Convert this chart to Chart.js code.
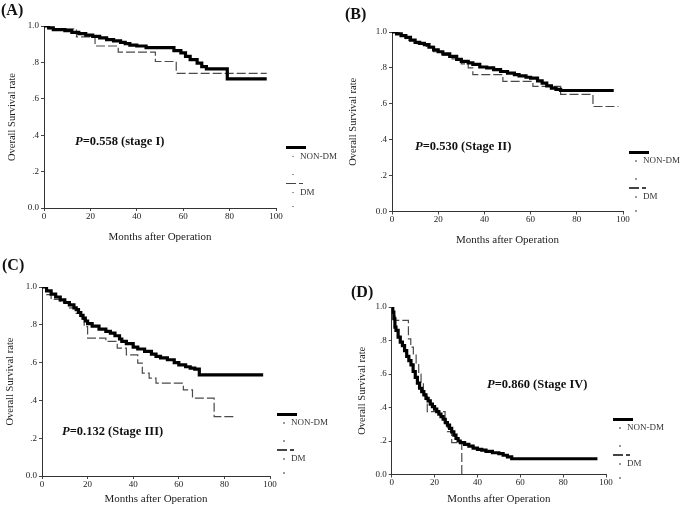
<!DOCTYPE html>
<html><head><meta charset="utf-8">
<script src="https://cdn.jsdelivr.net/npm/chart.js@4.4.1/dist/chart.umd.min.js"></script>
<style>
html,body{margin:0;padding:0;background:#fff;}
#page{position:relative;width:685px;height:509px;overflow:hidden;font-family:"Liberation Serif","Times New Roman",serif;color:#222;}
.panel{position:absolute;overflow:hidden;}
.panel canvas{position:absolute;left:0;top:0;}
.lbl{position:absolute;font-weight:bold;font-size:16px;line-height:16px;transform:translateY(-50%);white-space:nowrap;color:#111;}
.pval{position:absolute;font-weight:bold;font-size:12.5px;line-height:13px;transform:translateY(-50%);white-space:nowrap;color:#111;}
.leg{position:absolute;font-size:9px;line-height:9px;transform:translateY(-50%);white-space:nowrap;color:#333;}
.bar{position:absolute;height:3px;background:#000;}
.dash{position:absolute;height:1.5px;background:#444;}
.dot{position:absolute;width:1.5px;height:1.5px;background:#999;}
</style></head>
<body><div id="page"></div>
<script>
// ---- text ----
const panelLetters = ['(A)', '(B)', '(C)', '(D)'];
const pTexts = ['=0.558 (stage I)', '=0.530 (Stage II)', '=0.132 (Stage III)', '=0.860 (Stage IV)'];
const legendLabels = ['NON-DM', 'DM'];
const xTitle = 'Months after Operation';
const yTitle = 'Overall Survival rate';
const yTickLabels = ['0.0', '.2', '.4', '.6', '.8', '1.0'];

// ---- data (months, survival) ----
const aNonMonths = [0, 2, 4, 9, 12, 15, 18, 21, 24, 27, 30, 33, 35, 37, 40, 44, 56, 59, 61, 63, 66, 68, 70, 79, 96];
const aNonSurv   = [1.0, 0.99, 0.98, 0.975, 0.965, 0.958, 0.95, 0.943, 0.935, 0.925, 0.918, 0.91, 0.903, 0.895, 0.89, 0.881, 0.865, 0.852, 0.833, 0.815, 0.796, 0.777, 0.764, 0.709, 0.709];
const aDmMonths  = [0, 2, 14, 22, 32, 48, 57, 96];
const aDmSurv    = [1.0, 0.985, 0.94, 0.89, 0.857, 0.805, 0.74, 0.74];

const bNonMonths = [0, 2, 4, 6, 8, 10, 12, 14, 16, 18, 20, 22, 25, 28, 30, 33, 35, 38, 41, 44, 47, 50, 53, 55, 58, 60, 63, 65, 67, 69, 71, 73, 96];
const bNonSurv   = [1.0, 0.99, 0.98, 0.97, 0.955, 0.942, 0.937, 0.93, 0.915, 0.9, 0.89, 0.878, 0.864, 0.848, 0.836, 0.828, 0.82, 0.805, 0.8, 0.79, 0.78, 0.771, 0.762, 0.756, 0.748, 0.743, 0.728, 0.715, 0.7, 0.687, 0.68, 0.674, 0.674];
const bDmMonths  = [0, 3, 6, 10, 14, 18, 22, 26, 30, 33, 35, 48, 61, 73, 87, 98];
const bDmSurv    = [1.0, 0.975, 0.955, 0.935, 0.92, 0.89, 0.87, 0.85, 0.822, 0.8, 0.762, 0.725, 0.697, 0.652, 0.585, 0.585];

const cNonMonths = [0, 2, 4, 6, 8, 10, 12, 14, 15, 16, 17, 18, 19, 20, 22, 25, 28, 30, 32, 34, 35, 37, 40, 42, 45, 48, 50, 52, 55, 58, 60, 63, 65, 67, 69, 97];
const cNonSurv   = [1.0, 0.98, 0.962, 0.947, 0.932, 0.918, 0.905, 0.89, 0.88, 0.865, 0.85, 0.835, 0.82, 0.806, 0.793, 0.777, 0.765, 0.756, 0.742, 0.725, 0.712, 0.7, 0.682, 0.672, 0.659, 0.645, 0.633, 0.625, 0.615, 0.6, 0.588, 0.578, 0.571, 0.565, 0.535, 0.535];
const cDmMonths  = [0, 2, 4, 8, 12, 15, 17, 18.5, 20, 28, 33, 37, 42, 44, 47, 50, 62, 66, 75.5, 84];
const cDmSurv    = [1.0, 0.96, 0.935, 0.92, 0.89, 0.86, 0.83, 0.79, 0.73, 0.712, 0.677, 0.641, 0.597, 0.544, 0.518, 0.491, 0.456, 0.412, 0.314, 0.314];

const dNonMonths = [0, 0.5, 1, 1.5, 2, 3, 4, 5, 6, 7, 8, 9, 10, 11, 12, 13, 14, 15, 16, 17, 18, 19, 20, 21, 22, 23, 24, 25, 26, 27, 28, 29, 30, 31, 32, 34, 36, 38, 40, 42, 44, 47, 50, 52, 54, 56, 96];
const dNonSurv   = [1.0, 0.97, 0.93, 0.88, 0.86, 0.82, 0.79, 0.77, 0.74, 0.705, 0.68, 0.655, 0.615, 0.58, 0.545, 0.515, 0.495, 0.475, 0.455, 0.44, 0.42, 0.405, 0.39, 0.375, 0.36, 0.345, 0.33, 0.31, 0.295, 0.275, 0.255, 0.235, 0.215, 0.2, 0.19, 0.18, 0.17, 0.158, 0.15, 0.145, 0.138, 0.13, 0.125, 0.115, 0.105, 0.094, 0.094];
const dDmMonths  = [0, 0.8, 1.6, 7.8, 8.9, 10.1, 11.4, 12.6, 13.7, 14.8, 15.7, 16.6, 24.9, 26, 28, 32.7];
const dDmSurv    = [1.0, 0.95, 0.92, 0.81, 0.76, 0.72, 0.66, 0.6, 0.545, 0.5, 0.465, 0.375, 0.31, 0.256, 0.19, 0];

// ---- layout (page pixels) ----
const layouts = [
  {box:[0,0,340,250],   plot:[44,26,276,208],      yTitleX:12,  xTitleY:237, letter:[1,10],   p:[75,141],  leg:[286,147.5]},
  {box:[340,0,345,250], plot:[392,32,623,211.5],   yTitleX:353, xTitleY:240, letter:[345,14], p:[415,146], leg:[629,152]},
  {box:[0,250,340,259], plot:[42,287,270,476],     yTitleX:10,  xTitleY:499, letter:[2,265],  p:[62,431],  leg:[277,414]},
  {box:[340,250,345,259], plot:[391.7,307,606,474.5], yTitleX:362, xTitleY:499, letter:[351,292], p:[487,384], leg:[613,419]}
];
const series = [
  [aNonMonths, aNonSurv, aDmMonths, aDmSurv],
  [bNonMonths, bNonSurv, bDmMonths, bDmSurv],
  [cNonMonths, cNonSurv, cDmMonths, cDmSurv],
  [dNonMonths, dNonSurv, dDmMonths, dDmSurv]
];

const FAM = '"Liberation Serif","Times New Roman",serif';
const page = document.getElementById('page');
const pts = (m, s) => m.map((x, i) => ({x: x, y: s[i]}));

function el(parent, cls, x, y, w, h, text) {
  const d = document.createElement('div');
  d.className = cls;
  d.style.left = x + 'px'; d.style.top = y + 'px';
  if (w != null) d.style.width = w + 'px';
  if (h != null) d.style.height = h + 'px';
  if (text != null) d.textContent = text;
  parent.appendChild(d);
  return d;
}

layouts.forEach((g, i) => {
  const [bx, by, bw, bh] = g.box;
  const [pl, pt, pr, pb] = g.plot;
  const div = document.createElement('div');
  div.className = 'panel';
  Object.assign(div.style, {left: bx + 'px', top: by + 'px', width: bw + 'px', height: bh + 'px'});
  const cv = document.createElement('canvas');
  cv.width = bw; cv.height = bh;
  cv.style.width = bw + 'px'; cv.style.height = bh + 'px';
  div.appendChild(cv);
  page.appendChild(div);

  const yW = pl - bx, xH = (by + bh) - pb;
  const xFont = 11, yFont = 10.5;
  const [nm, ns, dm, ds] = series[i];
  new Chart(cv, {
    type: 'line',
    data: {datasets: [
      {label: legendLabels[0], data: pts(nm, ns), borderColor: '#000', borderWidth: 3.2, stepped: true, pointRadius: 0, fill: false, borderCapStyle: 'butt'},
      {label: legendLabels[1], data: pts(dm, ds), borderColor: '#4a4a4a', borderWidth: 1.2, borderDash: [9, 3], stepped: true, pointRadius: 0, fill: false}
    ]},
    options: {
      responsive: false, animation: false, events: [],
      layout: {padding: {left: 0, top: pt - by, right: (bx + bw) - pr, bottom: 0}},
      plugins: {legend: {display: false}, tooltip: {enabled: false}},
      scales: {
        x: {
          type: 'linear', min: 0, max: 100,
          ticks: {stepSize: 20, color: '#222', padding: 0, maxRotation: 0, font: {family: FAM, size: 9}},
          grid: {display: true, drawOnChartArea: false, drawTicks: true, tickLength: 3, tickColor: '#444'},
          border: {display: true, color: '#333', width: 1},
          title: {display: true, text: xTitle, color: '#222', font: {family: FAM, size: xFont},
                  padding: {top: 0, bottom: ((by + bh) - g.xTitleY) - xFont * 0.6}},
          afterFit: s => { s.height = xH; }
        },
        y: {
          type: 'linear', min: 0, max: 1,
          ticks: {stepSize: 0.2, color: '#222', padding: 2, font: {family: FAM, size: 9},
                  callback: v => yTickLabels[Math.round(v / 0.2)]},
          grid: {display: true, drawOnChartArea: false, drawTicks: true, tickLength: 3, tickColor: '#444'},
          border: {display: true, color: '#333', width: 1},
          title: {display: true, text: yTitle, color: '#222', font: {family: FAM, size: yFont},
                  padding: {top: (g.yTitleX - bx) - yFont * 0.6, bottom: 0}},
          afterFit: s => { s.width = yW; }
        }
      }
    }
  });

  // overlays (relative to panel box)
  const rx = x => x - bx, ry = y => y - by;
  el(div, 'lbl', rx(g.letter[0]), ry(g.letter[1]), null, null, panelLetters[i]);
  const p = el(div, 'pval', rx(g.p[0]), ry(g.p[1]));
  const pi = document.createElement('i'); pi.textContent = 'P';
  p.appendChild(pi); p.appendChild(document.createTextNode(pTexts[i]));
  const [lx, ly] = g.leg;
  el(div, 'bar', rx(lx), ry(ly - 1.5), 20, 3);
  el(div, 'dot', rx(lx + 6), ry(ly + 8));
  el(div, 'leg', rx(lx + 14), ry(ly + 8), null, null, legendLabels[0]);
  el(div, 'dot', rx(lx + 6), ry(ly + 26));
  el(div, 'dash', rx(lx), ry(ly + 35), 10, 1.5);
  el(div, 'dash', rx(lx + 13), ry(ly + 35), 4, 1.5);
  el(div, 'dot', rx(lx + 6), ry(ly + 44));
  el(div, 'leg', rx(lx + 14), ry(ly + 44), null, null, legendLabels[1]);
  el(div, 'dot', rx(lx + 6), ry(ly + 58));
});
</script>
</body></html>
